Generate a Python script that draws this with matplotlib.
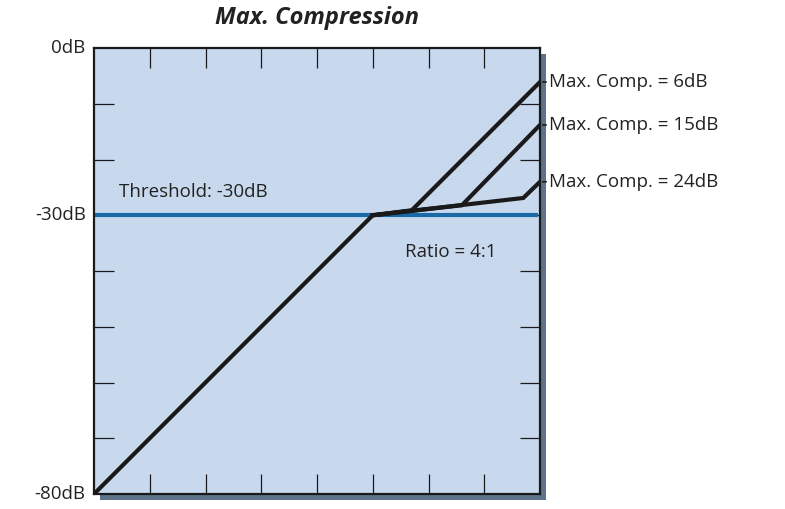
import matplotlib.pyplot as plt
from matplotlib.patches import Rectangle

plt.rcParams['font.family'] = ['Open Sans', 'DejaVu Sans']

# input/output levels in dB
below_in = [-80, -30]
below_out = [-80, -30]
comp_labels = ['Max. Comp. = 6dB', 'Max. Comp. = 15dB', 'Max. Comp. = 24dB']
comp_in = [[-30, -23.0, 0], [-30, -14.0, 0], [-30, -3.0, 0]]
comp_out = [[-30, -29.1, -6.1], [-30, -28.2, -13.8], [-30, -26.9, -24.0]]
threshold = -30
tick_vals = [-70, -60, -50, -40, -30, -20, -10]
ylabels = {0: '0dB', -30: '-30dB', -80: '-80dB'}

W, H = 785, 509
fig = plt.figure(figsize=(W / 100, H / 100), dpi=100)
l, b, w, h = 94 / W, (H - 494) / H, 446 / W, 446 / H

# drop shadow
fig.patches.append(Rectangle((l + 6 / W, b - 6 / H), w, h, transform=fig.transFigure,
                             facecolor='#5d7389', edgecolor='none', zorder=0))
ax = fig.add_axes([l, b, w, h])
ax.set_zorder(2)
ax.set_facecolor('#c8d9ee')
ax.set_xlim(-80, 0)
ax.set_ylim(-80, 0)
for s in ax.spines.values():
    s.set_linewidth(1.6)
    s.set_color('#1a1a1a')

ax.set_xticks(tick_vals)
ax.set_yticks(tick_vals)
ax.tick_params(direction='in', length=14.5, width=0.9, color='#1a1a1a',
               top=True, right=True, labelbottom=False, labelleft=False)

ax.axhline(threshold, xmin=0, xmax=0.99, color='#1a6aa8', lw=3, zorder=2)
ax.plot(below_in, below_out, color='#1a1a1a', lw=3, solid_capstyle='round', zorder=3)
for xs, ys, lab in zip(comp_in, comp_out, comp_labels):
    ax.plot(xs, ys, color='#1a1a1a', lw=3, solid_joinstyle='miter', zorder=3)
    ax.annotate('', xy=(0, ys[-1]), xytext=(1.6, ys[-1]), annotation_clip=False,
                arrowprops=dict(arrowstyle='-', color='#1a1a1a', lw=1.2))
    ax.text(1.7, ys[-1], lab, fontsize=13.5, va='center', ha='left', color='#222222',
            clip_on=False)

for v, t in ylabels.items():
    ax.text(-80 - 1.5, v, t, fontsize=13.5, va='center', ha='right', color='#222222')

ax.text(-75.5, -26.8, 'Threshold: -30dB', fontsize=13.5, color='#222222')
ax.text(-16, -37.5, 'Ratio = 4:1', fontsize=13.5, color='#222222', ha='center')
fig.text((94 + 223) / W, 1 - 18 / H, 'Max. Compression', fontsize=17, fontweight='bold',
         fontstyle='italic', ha='center', va='center', color='#222222')

fig.savefig('out.png', dpi=100)
